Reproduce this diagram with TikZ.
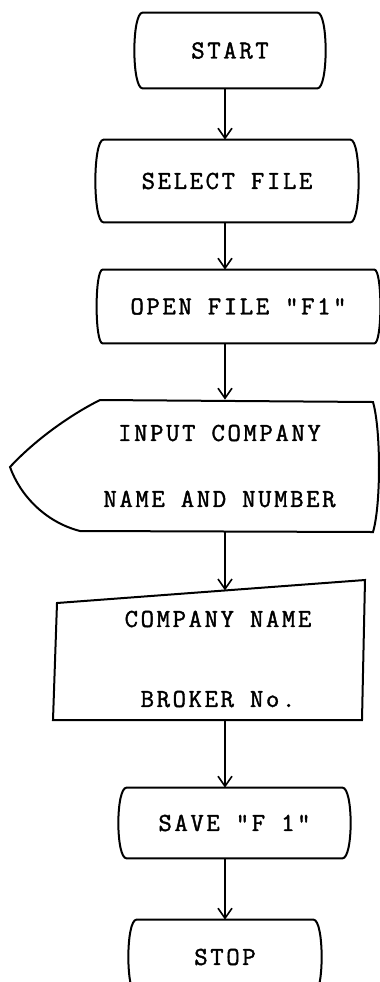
\documentclass[tikz,border=0pt]{standalone}
\usepackage{fontspec}
\setmonofont{Latin Modern Mono}[LetterSpace=10, FakeBold=1.5]
\usetikzlibrary{arrows.meta}

\begin{document}
\begin{tikzpicture}[x=.5pt, y=.5pt, >={Straight Barb[length=5pt, width=7pt]},
    every node/.style={font=\ttfamily\fontsize{13}{15}\selectfont, inner sep=0pt, align=center},
    box/.style={line width=1pt},
    flow/.style={->, line width=.8pt}]
  \useasboundingbox (0, 0) rectangle (380, -982);
  \coordinate (axis) at (225, 0);

  % terminals and processes
  \node [minimum width=87pt, minimum height=37.5pt] (start) at (230, -50.5) {START};
  \node [minimum width=123pt, minimum height=41pt] (select) at (227, -181) {SELECT FILE};
  \node [minimum width=135.5pt, minimum height=36.5pt] (open) at (238.5, -306.5) {OPEN FILE "F1"};
  \node [minimum width=107.5pt, minimum height=35pt] (save) at (234.5, -823) {SAVE "F 1"};
  \node [minimum width=88pt, minimum height=37pt] (stop) at (225, -957) {STOP};

  % bowed sides
  \foreach \nd/\b in {start/5.5pt, select/5.5pt, open/4pt, save/5.5pt, stop/5.5pt}{
    \draw [box] (\nd.north west) .. controls ([xshift=-\b]\nd.north west) and ([xshift=-\b]\nd.south west) .. (\nd.south west)
      -- (\nd.south east) .. controls ([xshift=\b]\nd.south east) and ([xshift=\b]\nd.north east) .. (\nd.north east) -- cycle;
  }

  % input (display)
  \node [minimum height=66pt] (input) at (219.5, -466) {INPUT COMPANY\\[18pt]NAME AND NUMBER};
  \draw [box] (100, -400) -- (373, -402) .. controls (381, -430) and (381, -505) .. (373, -532)
    -- (80, -531) .. controls (45, -522) and (20, -495) .. (10, -467)
    .. controls (35, -440) and (70, -415) .. (100, -400) -- cycle;

  % manual input
  \node [minimum height=61pt] (company) at (218, -659) {COMPANY NAME\\[25pt]BROKER No.};
  \draw [box] (53, -720) -- (57, -603) -- (365, -580) -- (362, -720) -- cycle;
  \coordinate (cin) at (225, -590.4);

  % connectors
  \draw [flow] (start.south -| axis) -- (select.north -| axis);
  \draw [flow] (select.south -| axis) -- (open.north -| axis);
  \draw [flow] (open.south -| axis) -- (input.north -| axis);
  \draw [flow] (input.south -| axis) -- (cin);
  \draw [flow] (company.south -| axis) -- (save.north -| axis);
  \draw [flow] (save.south -| axis) -- (stop.north -| axis);
\end{tikzpicture}
\end{document}
